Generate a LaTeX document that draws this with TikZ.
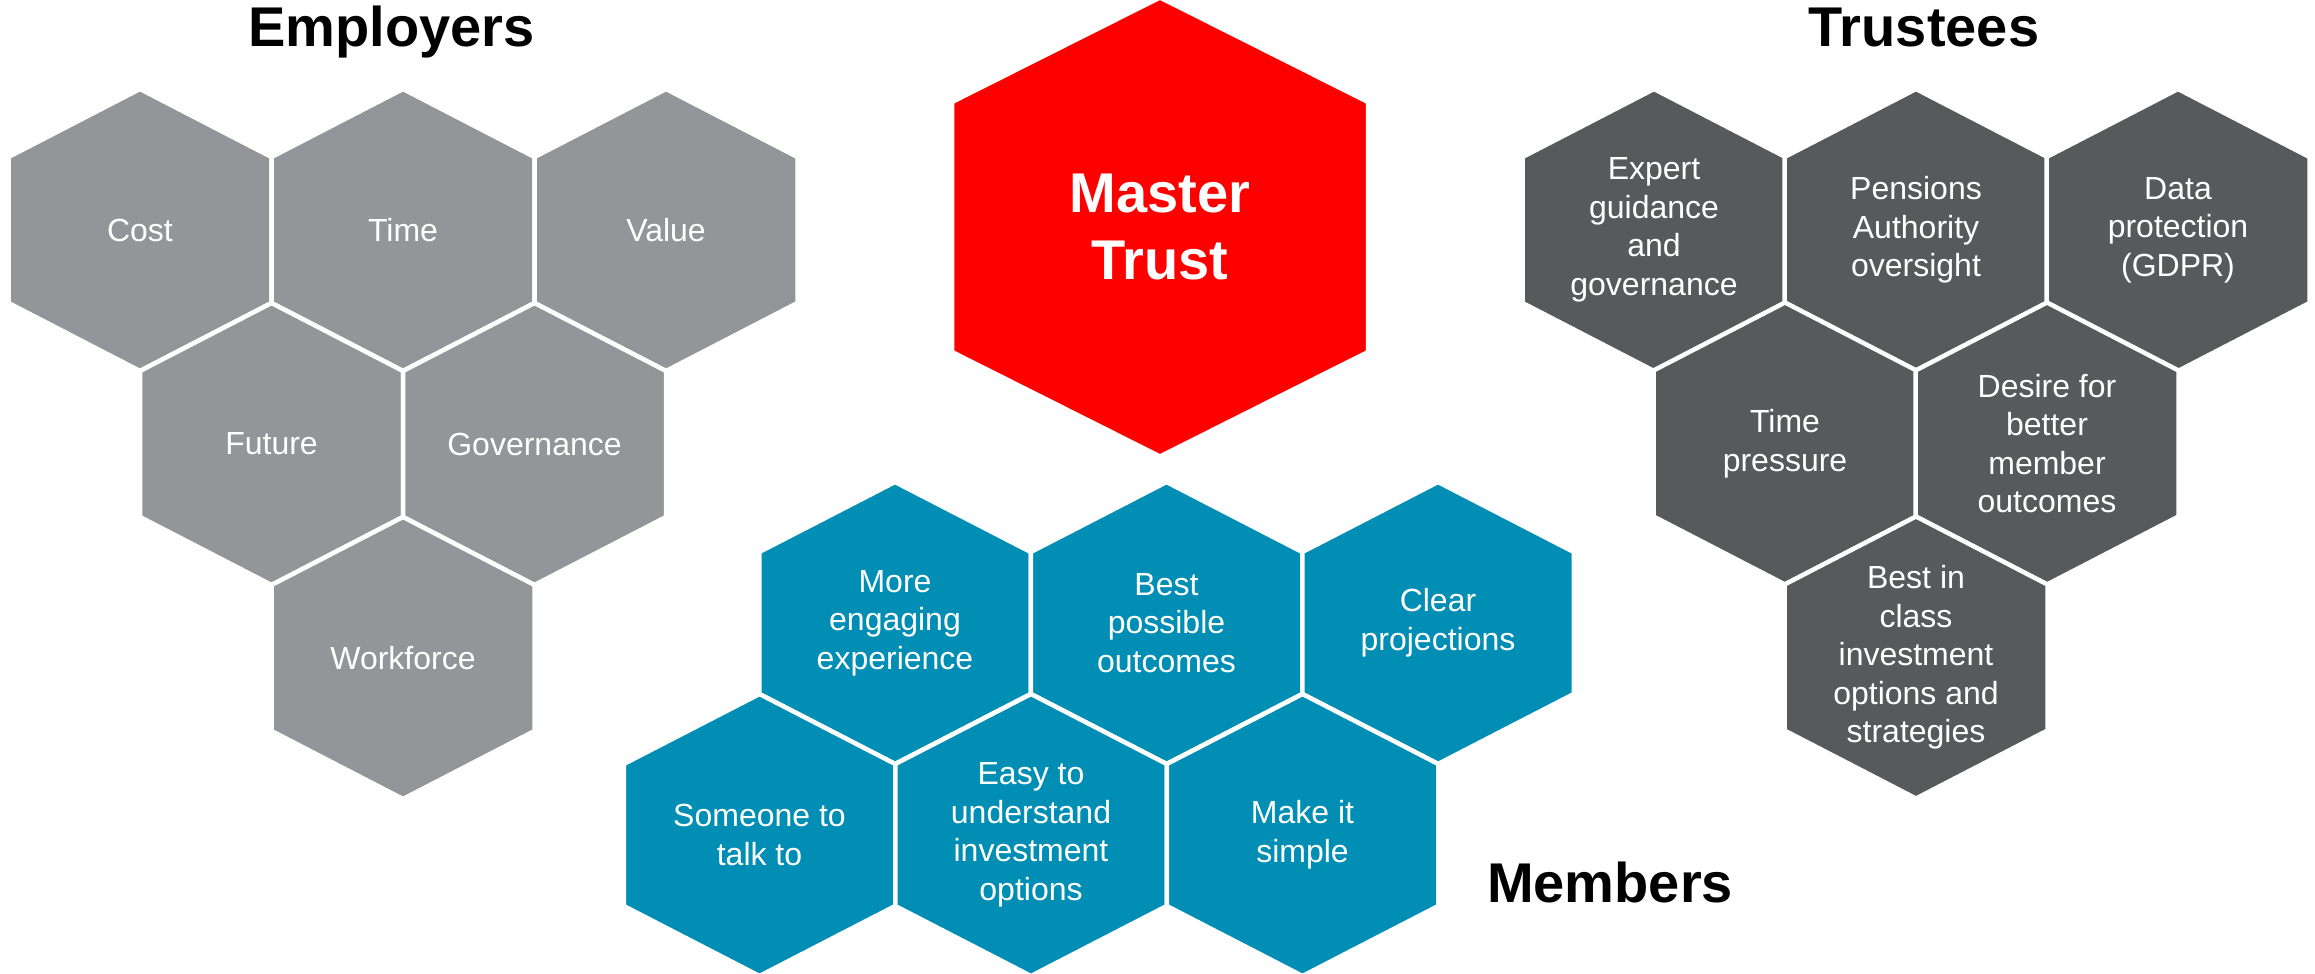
\documentclass[tikz,border=0pt]{standalone}
\usepackage{fontspec}
\setmainfont{Liberation Sans}
\definecolor{empgrey}{RGB}{147,149,152}
\definecolor{trugrey}{RGB}{88,89,91}
\definecolor{memteal}{RGB}{0,142,180}
\definecolor{mtred}{RGB}{255,0,0}
\tikzset{
  hexfill/.style={draw=white, line width=4.5pt, line join=miter},
  hextext/.style={text=white, align=center, inner sep=0pt, font=\fontsize{32}{38.6}\selectfont},
  mttext/.style={text=white, align=center, inner sep=0pt, font=\bfseries\fontsize{56}{67}\selectfont},
  grouptitle/.style={text=black, anchor=base, inner sep=0pt, font=\bfseries\fontsize{56}{64}\selectfont},
}
% #1 name, #2 cx, #3 cy, #4 half width, #5 half height, #6 side half, #7 colour, #8 text style, #9 text
\newcommand{\hexcell}[9]{%
  \path[hexfill, fill=#7] ({#2-#4},{#3-#6}) -- (#2,{#3-#5}) -- ({#2+#4},{#3-#6})
     -- ({#2+#4},{#3+#6}) -- (#2,{#3+#5}) -- ({#2-#4},{#3+#6}) -- cycle;
  \node[#8] (#1) at (#2,#3) {#9};
}
\newcommand{\smallhex}[5]{\hexcell{#1}{#2}{#3}{131.5}{141}{73}{#4}{hextext}{#5}}
\newcommand{\memhex}[4]{\hexcell{#1}{#2}{#3}{135.75}{141}{71}{memteal}{hextext}{#4}}
\begin{document}
\begin{tikzpicture}[x=1pt,y=-1pt]
\useasboundingbox (0,0) rectangle (2315,974);

% Employers
\smallhex{cost}{140}{230}{empgrey}{Cost}
\smallhex{time}{403}{230}{empgrey}{Time}
\smallhex{value}{666}{230}{empgrey}{Value}
\smallhex{future}{271.5}{444}{empgrey}{Future}
\smallhex{govern}{534.5}{444}{empgrey}{Governance}
\smallhex{workforce}{403}{658}{empgrey}{Workforce}
\node[grouptitle] (emptitle) at (391.5,47) {Employers};

% Master Trust
\hexcell{mt}{1160}{227}{208}{229.5}{125}{mtred}{mttext}{Master\\Trust}

% Trustees
\smallhex{expert}{1654}{230}{trugrey}{Expert\\guidance\\and\\governance}
\smallhex{pensions}{1916}{230}{trugrey}{Pensions\\Authority\\oversight}
\smallhex{data}{2178}{230}{trugrey}{Data\\protection\\(GDPR)}
\smallhex{timep}{1785}{443.5}{trugrey}{Time\\pressure}
\smallhex{desire}{2047}{443.5}{trugrey}{Desire for\\better\\member\\outcomes}
\smallhex{bestclass}{1916}{657.5}{trugrey}{Best in\\class\\investment\\options and\\strategies}
\node[grouptitle] (trutitle) at (1924,47) {Trustees};

% Members
\memhex{engaging}{895}{623}{More\\engaging\\experience}
\memhex{bestposs}{1166.5}{623}{Best\\possible\\outcomes}
\memhex{clear}{1438}{623}{Clear\\projections}
\memhex{someone}{759.5}{835}{Someone to\\talk to}
\memhex{easy}{1031}{835}{Easy to\\understand\\investment\\options}
\memhex{simple}{1302.5}{835}{Make it\\simple}
\node[grouptitle] (memtitle) at (1610,902) {Members};
\end{tikzpicture}
\end{document}
